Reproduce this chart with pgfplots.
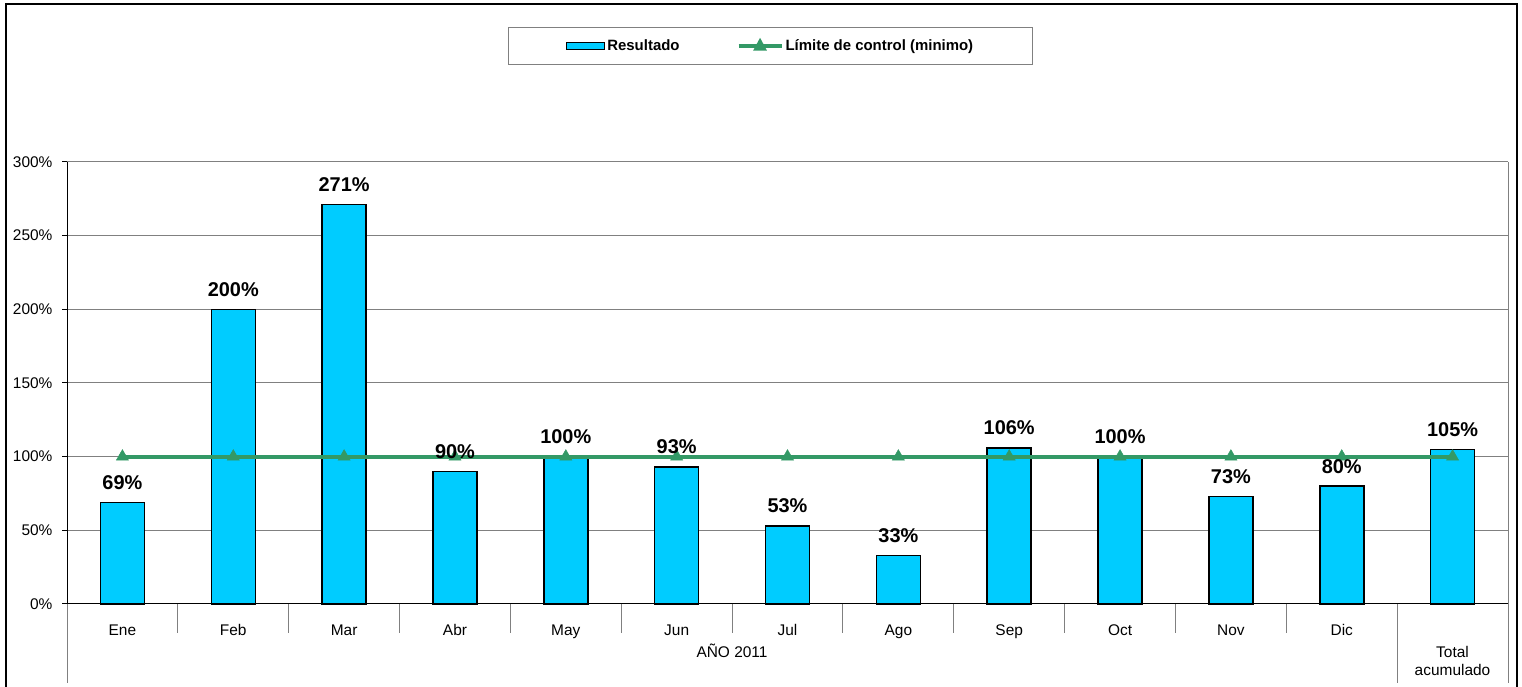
\documentclass[border=0pt]{standalone}
\usepackage{pgfplots}
\pgfplotsset{compat=1.18}
\usepackage{pgfplotstable}
\usepackage{fontspec}
\setmainfont{Liberation Sans}
\definecolor{barcyan}{RGB}{0,204,255}
\definecolor{limgreen}{RGB}{51,153,102}
\definecolor{gridgray}{RGB}{128,128,128}

\pgfplotstableread{
x val lim
0 69 100
1 200 100
2 271 100
3 90 100
4 100 100
5 93 100
6 53 100
7 33 100
8 106 100
9 100 100
10 73 100
11 80 100
12 105 100
}\datatable

\begin{document}
\begin{tikzpicture}[x=1bp,y=1bp]
\useasboundingbox (0,0) rectangle (1522,687);
\begin{axis}[
  at={(67bp,83bp)}, anchor=south west,
  scale only axis, width=1441bp, height=442bp,
  xmin=-0.5, xmax=12.5, ymin=0, ymax=300,
  clip=false,
  /pgf/number format/assume math mode=true,
  axis x line*=bottom, axis y line*=left,
  axis line style={black, line width=1bp, -},
  xtick=data,
  xticklabels={Ene,Feb,Mar,Abr,May,Jun,Jul,Ago,Sep,Oct,Nov,Dic,{}},
  x tick style={draw=none},
  xticklabel style={font=\fontsize{15.5}{18}\selectfont, anchor=base, yshift=-26bp},
  ytick={0,50,100,150,200,250,300},
  yticklabels={0\%,50\%,100\%,150\%,200\%,250\%,300\%},
  yticklabel style={font=\fontsize{15.5}{18}\selectfont, anchor=east, xshift=-6bp},
  ymajorgrids, grid style={gridgray, line width=1bp},
  tick align=outside, y tick style={black, line width=1bp}, major tick length=5bp,
  legend columns=2,
  legend cell align=left,
  legend style={at={(0.4882,1.2624)}, anchor=center, draw=gridgray, line width=1bp,
    font=\bfseries\fontsize{15}{18}\selectfont, inner xsep=57bp, inner ysep=10bp,
    /tikz/every even column/.append style={column sep=55bp}},
]
\addplot[ybar, bar width=44bp, bar shift=0pt, fill=barcyan, draw=black, line width=1.5bp,
  legend image code/.code={\draw[fill=barcyan, draw=black, line width=1.5bp] (0bp,-3.5bp) rectangle (38bp,3.5bp);}]
  table[x=x,y=val]{\datatable};
\addlegendentry{Resultado}
\addplot[limgreen, line width=4bp, mark=triangle*, mark size=7bp, mark options={solid, line width=0.5bp, fill=limgreen},
  legend image code/.code={\draw[limgreen, line width=4bp] (0bp,0bp) -- (43bp,0bp); \fill[limgreen] (21.5bp,0bp) +(0,4bp) -- +(-3.5bp,-2.5bp) -- +(3.5bp,-2.5bp) -- cycle;}]
  table[x=x,y=lim]{\datatable};
\addlegendentry{Límite de control (minimo)}
\addplot[draw=none, mark=none, forget plot, point meta=y,
  nodes near coords={\pgfmathprintnumber{\pgfplotspointmeta}\%},
  nodes near coords style={font=\bfseries\fontsize{20}{24}\selectfont, anchor=base, inner sep=0pt, yshift=13bp, text=black}]
  table[x=x,y=val]{\datatable};
\draw[gridgray, line width=1bp] (rel axis cs:1,0) -- (rel axis cs:1,1);
\end{axis}
\foreach \k in {1,...,11} \draw[gridgray, line width=1bp] ({67+110.846*\k},83) -- ({67+110.846*\k},54);
\foreach \k in {0,12,13} \draw[gridgray, line width=1bp] ({67+110.846*\k},83) -- ({67+110.846*\k},4);
\node[anchor=base, font=\fontsize{15.5}{18}\selectfont, inner sep=0pt] at (732,29) {AÑO 2011};
\node[anchor=base, font=\fontsize{15.5}{18}\selectfont, inner sep=0pt] at (1452.5,29.5) {Total};
\node[anchor=base, font=\fontsize{15.5}{18}\selectfont, inner sep=0pt] at (1452.5,11) {acumulado};
\draw[line width=2.5bp] (6,0) -- (6,683) -- (1517,683) -- (1517,0);
\end{tikzpicture}
\end{document}
